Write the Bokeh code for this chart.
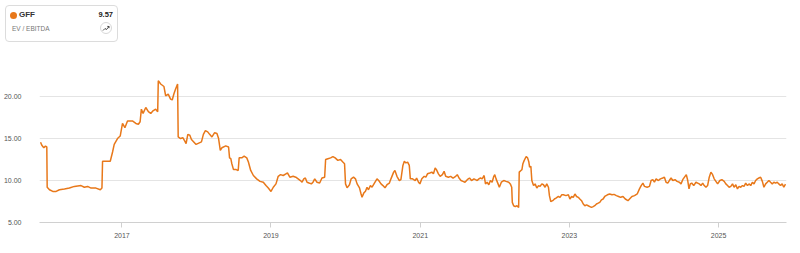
import pandas as pd
from bokeh.plotting import figure
from bokeh.models import ColumnDataSource, FixedTicker, DatetimeTickFormatter, NumeralTickFormatter, Range1d, Div
from bokeh.layouts import column
from bokeh.embed import file_html
from bokeh.resources import INLINE

ticker_name = "GFF"
metric_name = "EV / EBITDA"
last_value = "9.57"

# decimal-year positions
dates_dec = [
    2015.911, 2015.928, 2015.955, 2015.977, 2015.995, 2016.000, 2016.031, 2016.075, 2016.120, 2016.164,
    2016.231, 2016.297, 2016.364, 2016.453, 2016.497, 2016.541, 2016.587, 2016.653, 2016.711, 2016.733,
    2016.741, 2016.787, 2016.844, 2016.875, 2016.897, 2016.941, 2016.977, 2017.008, 2017.040, 2017.075,
    2017.141, 2017.187, 2017.221, 2017.244, 2017.261, 2017.284, 2017.320, 2017.355, 2017.387, 2017.417,
    2017.453, 2017.480, 2017.488, 2017.520, 2017.564, 2017.587, 2017.621, 2017.653, 2017.675, 2017.697,
    2017.720, 2017.747, 2017.755, 2017.787, 2017.817, 2017.844, 2017.861, 2017.884, 2017.911, 2017.933,
    2017.964, 2017.995, 2018.031, 2018.067, 2018.093, 2018.120, 2018.151, 2018.177, 2018.208, 2018.244,
    2018.275, 2018.297, 2018.320, 2018.341, 2018.387, 2018.400, 2018.431, 2018.444, 2018.461, 2018.475,
    2018.497, 2018.533, 2018.560, 2018.573, 2018.608, 2018.640, 2018.675, 2018.697, 2018.728, 2018.764,
    2018.808, 2018.853, 2018.897, 2018.933, 2018.964, 2019.000, 2019.031, 2019.067, 2019.097, 2019.128,
    2019.164, 2019.200, 2019.221, 2019.253, 2019.297, 2019.333, 2019.364, 2019.395, 2019.417, 2019.440,
    2019.461, 2019.484, 2019.511, 2019.541, 2019.564, 2019.587, 2019.617, 2019.653, 2019.684, 2019.720,
    2019.733, 2019.764, 2019.800, 2019.831, 2019.861, 2019.897, 2019.933, 2019.964, 2019.987, 2020.000,
    2020.021, 2020.053, 2020.075, 2020.107, 2020.133, 2020.155, 2020.187, 2020.208, 2020.221, 2020.244,
    2020.267, 2020.288, 2020.307, 2020.333, 2020.355, 2020.387, 2020.421, 2020.444, 2020.475, 2020.501,
    2020.528, 2020.555, 2020.587, 2020.608, 2020.644, 2020.661, 2020.688, 2020.720, 2020.741, 2020.768,
    2020.787, 2020.808, 2020.831, 2020.853, 2020.867, 2020.897, 2020.933, 2020.951, 2020.977, 2020.995,
    2021.021, 2021.053, 2021.075, 2021.097, 2021.128, 2021.155, 2021.177, 2021.200, 2021.217, 2021.244,
    2021.267, 2021.297, 2021.320, 2021.341, 2021.377, 2021.408, 2021.440, 2021.475, 2021.497, 2021.520,
    2021.547, 2021.573, 2021.600, 2021.631, 2021.661, 2021.688, 2021.720, 2021.741, 2021.764, 2021.787,
    2021.808, 2021.831, 2021.857, 2021.875, 2021.897, 2021.920, 2021.941, 2021.964, 2021.987, 2022.000,
    2022.017, 2022.044, 2022.061, 2022.088, 2022.120, 2022.151, 2022.187, 2022.208, 2022.227, 2022.235,
    2022.253, 2022.275, 2022.297, 2022.320, 2022.328, 2022.351, 2022.364, 2022.377, 2022.395, 2022.421,
    2022.440, 2022.457, 2022.467, 2022.484, 2022.497, 2022.520, 2022.541, 2022.564, 2022.587, 2022.608,
    2022.631, 2022.653, 2022.675, 2022.697, 2022.720, 2022.733, 2022.751, 2022.777, 2022.800, 2022.821,
    2022.853, 2022.875, 2022.897, 2022.920, 2022.955, 2022.987, 2023.008, 2023.031, 2023.053, 2023.075,
    2023.097, 2023.120, 2023.141, 2023.164, 2023.187, 2023.208, 2023.231, 2023.253, 2023.275, 2023.297,
    2023.320, 2023.341, 2023.364, 2023.387, 2023.408, 2023.431, 2023.453, 2023.475, 2023.511, 2023.541,
    2023.573, 2023.600, 2023.631, 2023.661, 2023.688, 2023.720, 2023.751, 2023.787, 2023.808, 2023.840,
    2023.875, 2023.911, 2023.941, 2023.964, 2023.987, 2024.008, 2024.044, 2024.075, 2024.097, 2024.120,
    2024.141, 2024.164, 2024.195, 2024.221, 2024.253, 2024.275, 2024.297, 2024.320, 2024.341, 2024.364,
    2024.387, 2024.417, 2024.444, 2024.475, 2024.497, 2024.520, 2024.551, 2024.568, 2024.587, 2024.604,
    2024.621, 2024.640, 2024.667, 2024.697, 2024.720, 2024.741, 2024.764, 2024.787, 2024.808, 2024.831,
    2024.853, 2024.875, 2024.897, 2024.920, 2024.941, 2024.964, 2024.987, 2025.017, 2025.044, 2025.075,
    2025.097, 2025.120, 2025.141, 2025.164, 2025.187, 2025.208, 2025.231, 2025.253, 2025.275, 2025.297,
    2025.320, 2025.341, 2025.364, 2025.387, 2025.408, 2025.431, 2025.453, 2025.475, 2025.497, 2025.520,
    2025.541, 2025.564, 2025.587, 2025.608, 2025.631, 2025.653, 2025.675, 2025.697, 2025.720, 2025.741,
    2025.764, 2025.787, 2025.808, 2025.831, 2025.853, 2025.875, 2025.897,
]

ev_ebitda = [
    14.56, 14.2, 13.9, 14.1, 14.0, 9.2, 8.9, 8.7, 8.7, 8.9,
    9.0, 9.1, 9.3, 9.4, 9.2, 9.3, 9.1, 9.1, 8.9, 9.1,
    12.3, 12.3, 12.3, 13.4, 14.3, 15.0, 15.3, 16.8, 16.3, 17.1,
    17.1, 16.8, 16.7, 17.0, 18.5, 18.0, 18.7, 18.2, 18.0, 18.3,
    18.5, 18.2, 21.9, 21.5, 21.2, 20.1, 20.3, 19.7, 19.6, 20.3,
    20.9, 21.5, 15.2, 15.0, 15.1, 14.7, 14.4, 15.5, 15.4, 14.9,
    14.6, 14.3, 14.45, 14.6, 15.5, 15.95, 15.8, 15.5, 15.2, 15.7,
    15.6, 15.0, 13.6, 13.9, 14.1, 14.1, 14.0, 12.7, 12.6, 12.0,
    11.3, 11.3, 11.2, 12.7, 12.7, 12.9, 12.7, 12.2, 11.2, 10.6,
    10.2, 9.9, 9.8, 9.4, 9.1, 8.7, 9.2, 9.6, 10.5, 10.7,
    10.6, 10.8, 10.9, 10.4, 10.5, 10.4, 10.2, 10.0, 9.8, 10.2,
    10.3, 9.8, 9.7, 9.6, 9.8, 10.2, 9.8, 9.7, 10.3, 10.4,
    12.5, 12.6, 12.7, 12.86, 12.7, 12.4, 12.5, 12.2, 12.0, 9.6,
    9.13, 9.5, 10.2, 10.4, 10.2, 9.6, 9.13, 8.4, 8.0, 8.5,
    8.73, 9.2, 8.9, 9.4, 9.2, 9.7, 10.2, 10.0, 9.6, 9.4,
    9.13, 9.5, 9.7, 10.2, 11.0, 11.2, 10.5, 10.0, 10.1, 11.8,
    12.3, 12.1, 12.2, 11.8, 10.2, 10.2, 10.0, 10.3, 9.8, 9.6,
    10.2, 10.5, 10.4, 10.8, 10.9, 11.0, 10.8, 11.5, 11.3, 10.8,
    10.5, 10.7, 11.1, 10.5, 10.4, 10.5, 10.3, 10.5, 10.7, 10.3,
    10.0, 9.9, 9.8, 10.1, 10.3, 10.0, 10.2, 10.1, 10.0, 10.2,
    10.3, 10.2, 10.6, 9.6, 9.8, 9.5, 10.0, 9.8, 10.5, 10.7,
    10.2, 9.6, 9.2, 9.8, 10.0, 9.9, 9.8, 9.6, 9.2, 7.4,
    7.0, 6.9, 7.0, 6.8, 11.0, 11.2, 11.3, 12.0, 12.4, 12.86,
    12.7, 12.2, 11.6, 11.7, 10.0, 9.4, 9.6, 9.1, 9.4, 9.3,
    9.6, 9.5, 9.2, 9.6, 9.2, 8.2, 7.5, 7.6, 7.8, 7.9,
    8.1, 8.0, 8.3, 8.3, 8.2, 8.3, 7.8, 8.1, 8.0, 8.4,
    8.1, 8.0, 7.8, 7.6, 7.2, 7.0, 7.1, 7.0, 6.9, 6.8,
    6.9, 7.0, 7.2, 7.3, 7.4, 7.7, 7.8, 8.1, 8.3, 8.4,
    8.3, 8.35, 8.2, 8.1, 8.0, 8.1, 7.8, 7.6, 7.8, 8.1,
    8.2, 8.4, 9.0, 9.4, 9.7, 9.3, 9.2, 9.3, 10.0, 10.1,
    9.8, 10.2, 10.0, 10.2, 10.3, 10.4, 9.8, 9.7, 10.0, 10.3,
    10.0, 10.1, 9.9, 9.8, 9.6, 10.1, 10.5, 10.7, 10.0, 9.0,
    9.6, 9.7, 9.4, 9.8, 9.7, 9.6, 9.4, 9.7, 9.4, 9.2,
    9.4, 10.4, 11.0, 10.7, 10.2, 9.9, 9.6, 10.0, 10.1, 9.9,
    9.6, 9.4, 9.2, 9.3, 9.6, 9.2, 9.5, 9.0, 9.3, 9.2,
    9.4, 9.3, 9.7, 9.4, 9.6, 9.4, 9.8, 9.6, 10.0, 10.2,
    10.3, 10.4, 9.9, 9.2, 9.6, 9.8, 10.0, 9.8, 9.6, 9.8,
    9.7, 9.8, 9.6, 9.4, 9.6, 9.2, 9.57,
]

y_ticks = [5, 10, 15, 20]
x_tick_years = [2017, 2019, 2021, 2023, 2025]
x_limits = [2015.897, 2025.911]
y_limits = [5.0, 24.3]


def to_ts(t):
    y = int(t)
    start = pd.Timestamp(year=y, month=1, day=1)
    end = pd.Timestamp(year=y + 1, month=1, day=1)
    return start + (end - start) * (t - y)


dates = [to_ts(t) for t in dates_dec]
src = ColumnDataSource(dict(date=dates, v=ev_ebitda))

FONT = "Liberation Sans"
ORANGE = "#E8781A"

p = figure(
    width=800, height=203, x_axis_type="datetime",
    output_backend="svg", toolbar_location=None,
    x_range=Range1d(to_ts(x_limits[0]), to_ts(x_limits[1])),
    y_range=Range1d(y_limits[0], y_limits[1]),
    min_border_left=35, min_border_right=14, min_border_top=10, min_border_bottom=31,
)
p.outline_line_color = None
p.background_fill_color = "white"
p.border_fill_color = "white"

p.line(x="date", y="v", source=src, line_color=ORANGE, line_width=1.5)

p.xgrid.visible = False
p.ygrid.grid_line_color = "#e4e4e4"
p.ygrid.grid_line_width = 1

p.yaxis.ticker = FixedTicker(ticks=y_ticks)
p.yaxis.formatter = NumeralTickFormatter(format="0.00")
p.yaxis.axis_line_color = None
p.yaxis.major_tick_line_color = None
p.yaxis.minor_tick_line_color = None
p.yaxis.major_label_text_font = FONT
p.yaxis.major_label_text_font_size = "7px"
p.yaxis.major_label_text_color = "#555555"
p.yaxis.major_label_text_baseline = "alphabetic"
p.yaxis.major_label_standoff = 12

x_ticks_ms = [pd.Timestamp(year=y, month=1, day=1).value / 1e6 for y in x_tick_years]
p.xaxis.ticker = FixedTicker(ticks=x_ticks_ms)
p.xaxis.formatter = DatetimeTickFormatter(years="%Y", months="%Y", days="%Y", hours="%Y")
p.xaxis.axis_line_color = "#d0d0d0"
p.xaxis.major_tick_line_color = "#d0d0d0"
p.xaxis.major_tick_out = 5
p.xaxis.major_tick_in = 0
p.xaxis.minor_tick_line_color = None
p.xaxis.major_label_text_font = FONT
p.xaxis.major_label_text_font_size = "7px"
p.xaxis.major_label_text_color = "#555555"
p.xaxis.major_label_standoff = 5

card_html = f"""
<div style="position:relative;width:800px;height:50px;font-family:'{FONT}',Arial,sans-serif;background:white;">
  <div style="position:absolute;left:5px;top:5px;width:113px;height:37px;box-sizing:border-box;
              border:1px solid #dcdcdc;border-radius:4px;background:white;">
    <div style="position:absolute;left:4px;top:6px;width:7px;height:7px;border-radius:50%;background:{ORANGE};"></div>
    <div style="position:absolute;left:13px;top:4px;font-size:8px;line-height:10px;font-weight:600;color:#333;">{ticker_name}</div>
    <div style="position:absolute;right:4px;top:4px;font-size:7.5px;line-height:10px;font-weight:700;color:#222;">{last_value}</div>
    <div style="position:absolute;left:6px;top:19px;font-size:6.5px;line-height:8px;color:#777;">{metric_name}</div>
    <div style="position:absolute;left:94px;top:16px;width:12px;height:12px;box-sizing:border-box;
                border:1px solid #d8d8d8;border-radius:50%;">
      <svg width="10" height="10" viewBox="0 0 10 10" style="position:absolute;left:0px;top:0px;">
        <polyline points="2,7.5 4,5.5 5.5,6.5 8,3.5" fill="none" stroke="#333" stroke-width="0.9"/>
        <polyline points="6.3,3.4 8,3.5 8,5.2" fill="none" stroke="#333" stroke-width="0.9"/>
      </svg>
    </div>
  </div>
</div>
"""
card = Div(text=card_html, width=800, height=50, margin=0)

layout = column(card, p, spacing=0)
open("out.html", "w").write(file_html(layout, INLINE))
